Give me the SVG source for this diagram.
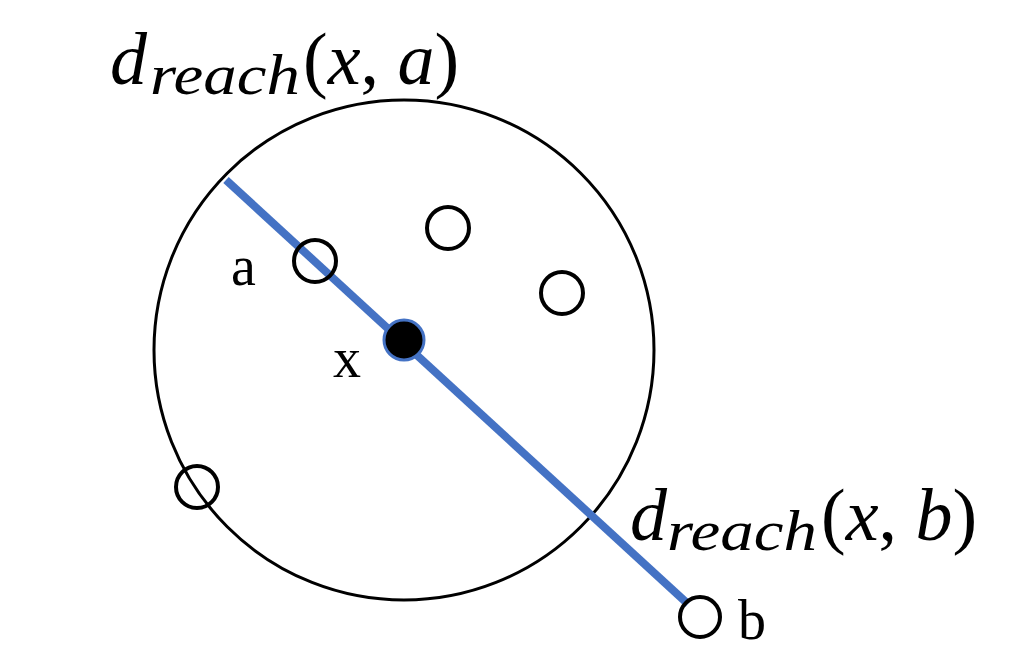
<svg xmlns="http://www.w3.org/2000/svg" width="1022" height="665" viewBox="0 0 1022 665">
<style>
.ring{fill:none;stroke:#000;stroke-width:4}
.big{fill:none;stroke:#000;stroke-width:3}
.lbl{font-family:"Liberation Serif",serif;font-size:56px;fill:#000}
.m{font-family:"Liberation Serif",serif;fill:#000;font-size:74px}
.it{font-style:italic}
.sub{font-size:58px}
</style>
<rect width="1022" height="665" fill="#fff"/>
<g id="region"><circle class="big" cx="404" cy="350" r="250"/></g>
<g id="connectors"><line x1="226" y1="180" x2="688" y2="604" stroke="#4472C4" stroke-width="8"/></g>
<g id="node-a"><circle class="ring" cx="315" cy="261" r="21"/><text class="lbl" x="231" y="285">a</text></g>
<g id="node-p1"><circle class="ring" cx="448" cy="228" r="21"/></g>
<g id="node-p2"><circle class="ring" cx="562" cy="293" r="21"/></g>
<g id="node-p3"><circle class="ring" cx="197" cy="487" r="21"/></g>
<g id="node-b"><circle class="ring" cx="700" cy="617" r="20"/><text class="lbl" x="738" y="639">b</text></g>
<g id="node-x"><circle cx="404" cy="340" r="20" fill="#000" stroke="#4472C4" stroke-width="3"/><text class="lbl" x="333" y="377">x</text></g>
<g id="label-xa"><text class="m"><tspan class="it" x="110" y="84">d</tspan><tspan class="it sub" x="150" y="94" textLength="150" lengthAdjust="spacingAndGlyphs">reach</tspan><tspan x="303" y="84">(</tspan><tspan class="it">x</tspan><tspan>, </tspan><tspan class="it">a</tspan><tspan>)</tspan></text></g>
<g id="label-xb"><text class="m"><tspan class="it" x="630" y="540">d</tspan><tspan class="it sub" x="667" y="550" textLength="150" lengthAdjust="spacingAndGlyphs">reach</tspan><tspan x="821" y="540">(</tspan><tspan class="it">x</tspan><tspan>, </tspan><tspan class="it">b</tspan><tspan>)</tspan></text></g>
</svg>
